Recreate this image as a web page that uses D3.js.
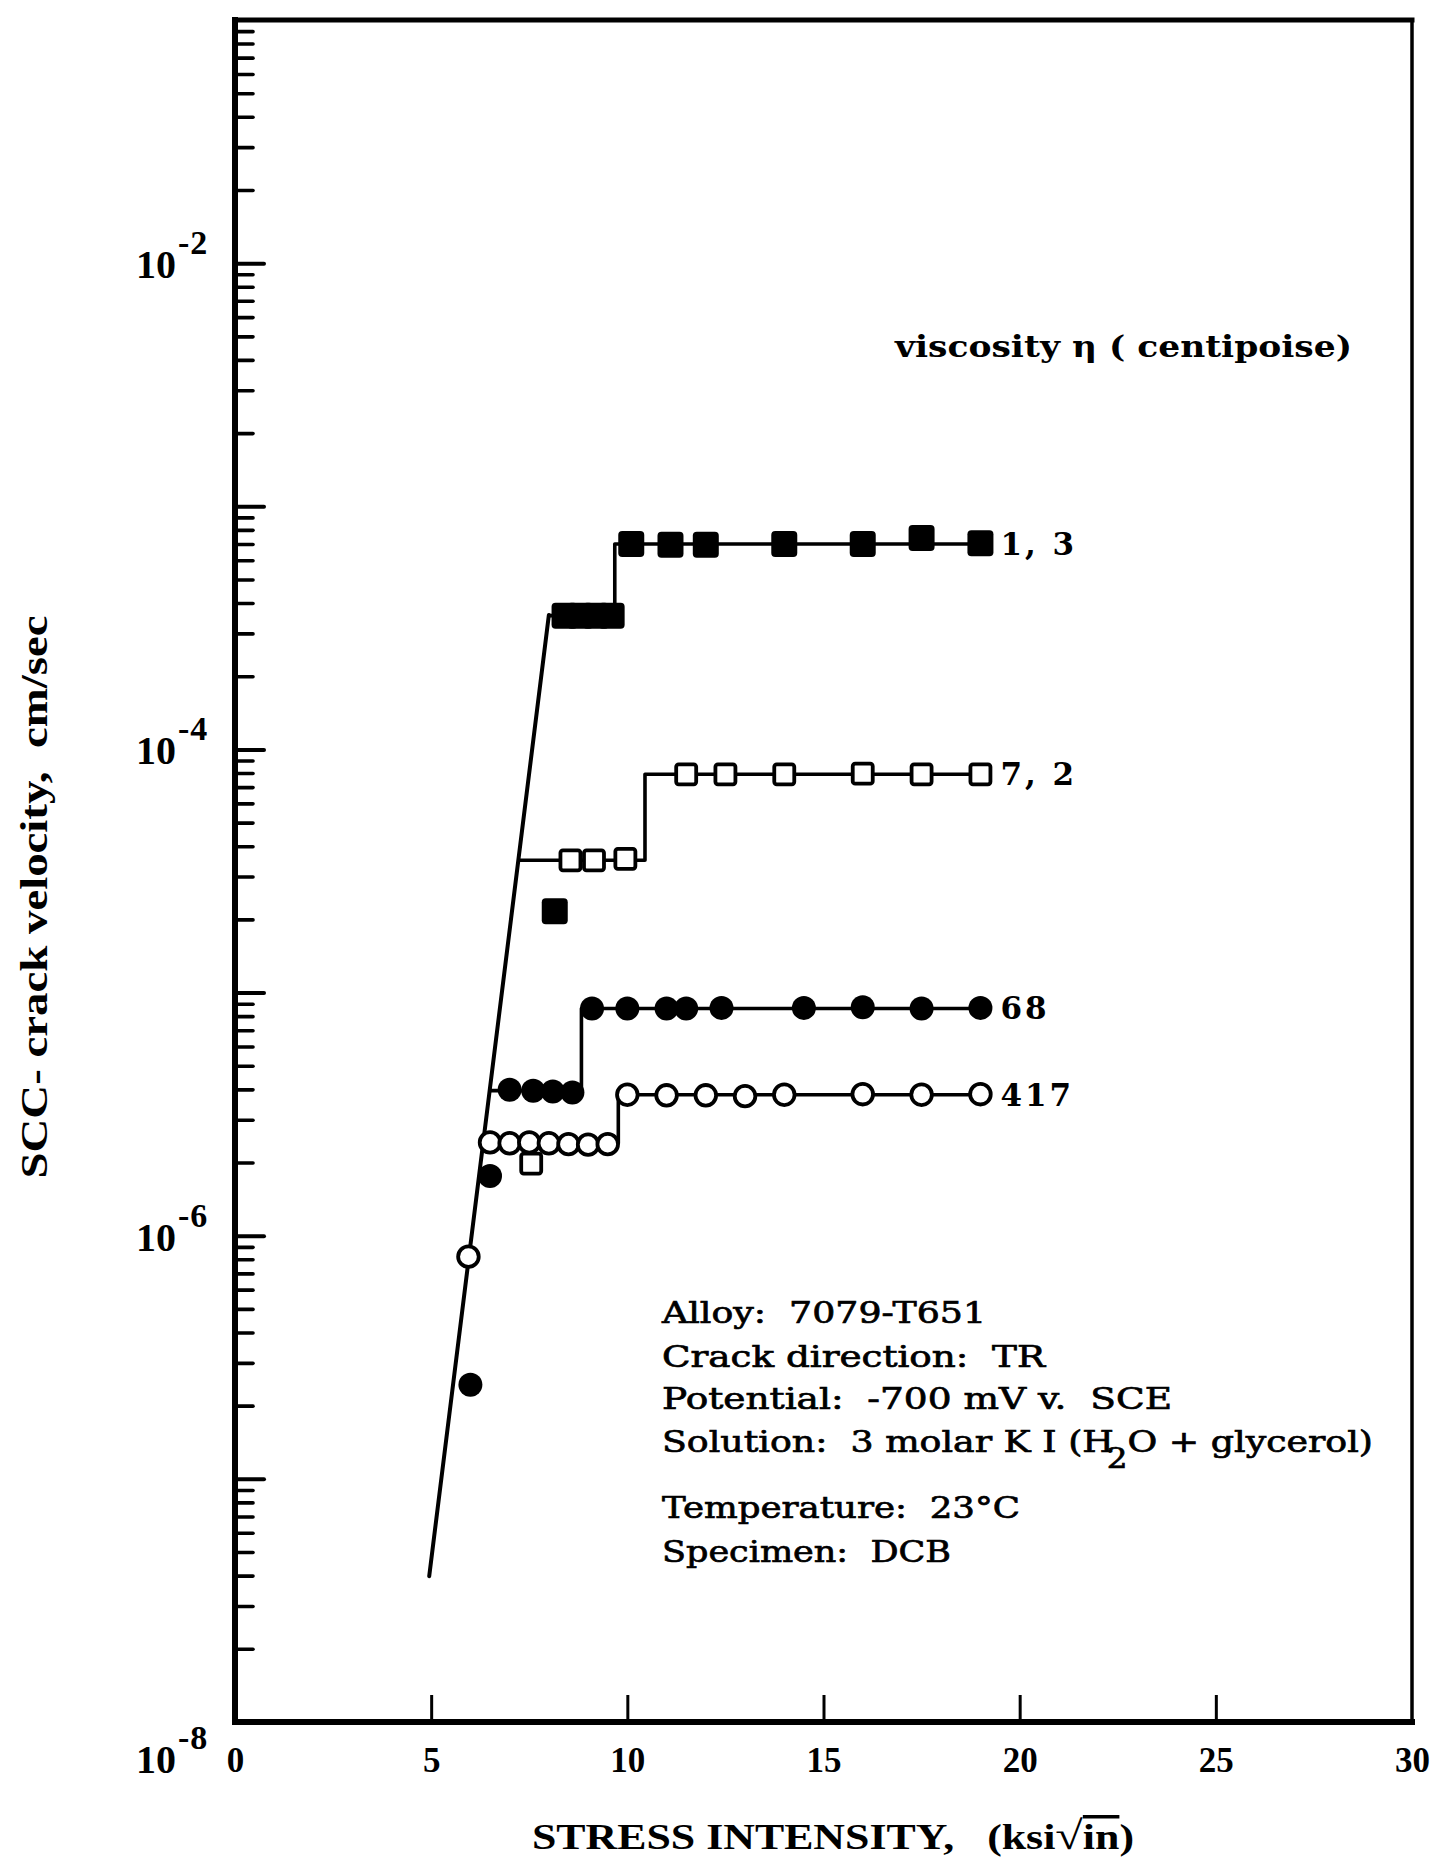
<!DOCTYPE html>
<html><head><meta charset="utf-8">
<script src="https://cdn.jsdelivr.net/npm/d3@7"></script>
<style>body{margin:0;background:#fff}svg{display:block}text{white-space:pre}</style>
</head><body>
<svg id="chart" width="1436" height="1876"></svg>
<script>
// ---------------- data ----------------
const xTickValues = [5, 10, 15, 20, 25];
const xLabelValues = [0, 5, 10, 15, 20, 25, 30];
const xTickLabels = ["0", "5", "10", "15", "20", "25", "30"];
const yLabelExponents = [-2, -4, -6, -8];
const yLabelText = ["-2", "-4", "-6", "-8"];

// common steep fit line (K, velocity)
const fitK = [4.95, 8.0];
const fitV = [3.98e-8, 3.57e-4];

// viscosity 1,3  (filled squares)
const s13K = [8.4, 8.8, 9.2, 9.6, 10.1, 11.1, 12.0, 14.0, 16.0, 17.5, 19.0, 8.15];
const s13V = [3.55e-4, 3.55e-4, 3.55e-4, 3.55e-4, 7.0e-4, 6.95e-4, 6.95e-4, 7.0e-4, 7.0e-4, 7.4e-4, 7.05e-4, 2.16e-5];
const s13Levels = [3.55e-4, 7.0e-4];
const s13Rise = 9.68;

// viscosity 7,2  (open squares)
const s72K = [8.55, 9.15, 9.95, 11.5, 12.5, 14.0, 16.0, 17.5, 19.0, 7.55];
const s72V = [3.5e-5, 3.5e-5, 3.55e-5, 7.9e-5, 7.9e-5, 7.9e-5, 7.95e-5, 7.9e-5, 7.9e-5, 1.98e-6];
const s72Levels = [3.5e-5, 7.9e-5];
const s72Rise = 10.45;

// viscosity 68  (filled circles)
const s68K = [7.0, 7.6, 8.1, 8.6, 9.1, 10.0, 11.0, 11.5, 12.4, 14.5, 16.0, 17.5, 19.0, 6.5, 6.0];
const s68V = [3.98e-6, 3.95e-6, 3.92e-6, 3.88e-6, 8.6e-6, 8.6e-6, 8.6e-6, 8.6e-6, 8.65e-6, 8.65e-6, 8.7e-6, 8.6e-6, 8.65e-6, 1.76e-6, 2.44e-7];
const s68Levels = [3.95e-6, 8.6e-6];
const s68Rise = 8.83;

// viscosity 417  (open circles)
const s417K = [6.5, 7.0, 7.5, 8.0, 8.5, 9.0, 9.5, 10, 11, 12, 13, 14, 16, 17.5, 19, 5.95];
const s417V = [2.42e-6, 2.4e-6, 2.42e-6, 2.4e-6, 2.38e-6, 2.37e-6, 2.38e-6, 3.8e-6, 3.78e-6, 3.78e-6, 3.75e-6, 3.8e-6, 3.82e-6, 3.8e-6, 3.82e-6, 8.2e-7];
const s417Levels = [2.4e-6, 3.8e-6];
const s417Rise = 9.77;

const seriesNames = ["1, 3", "7, 2", "68", "417"];
const stepEndK = 19.0;

const annotationLines = [
  "Alloy:  7079-T651",
  "Crack direction:  TR",
  "Potential:  -700 mV v.  SCE",
  "Solution:  3 molar K I (H|2|O + glycerol)",
  "Temperature:  23°C",
  "Specimen:  DCB"
];

// ---------------- chart ----------------
const svg = d3.select("#chart");
const x = d3.scaleLinear().domain([0, 30]).range([235, 1412]);
const y = d3.scaleLog().domain([1e-8, 1e-1]).range([1722, 20]);

const series = [
  {name: seriesNames[0], shape: "square", filled: true,  k: s13K, v: s13V, levels: s13Levels, rise: s13Rise},
  {name: seriesNames[1], shape: "square", filled: false, k: s72K, v: s72V, levels: s72Levels, rise: s72Rise},
  {name: seriesNames[2], shape: "circle", filled: true,  k: s68K, v: s68V, levels: s68Levels, rise: s68Rise},
  {name: seriesNames[3], shape: "circle", filled: false, k: s417K, v: s417V, levels: s417Levels, rise: s417Rise}
];

// K where the fit line reaches a given velocity
function fitAt(v) {
  const l0 = Math.log10(fitV[0]), l1 = Math.log10(fitV[1]);
  const t = (Math.log10(v) - l0) / (l1 - l0);
  return fitK[0] + t * (fitK[1] - fitK[0]);
}

// y axis ticks (inward)
const yTickVals = [];
for (let e = -8; e <= -2; e++) for (let m = 1; m <= 9; m++) {
  const v = m * Math.pow(10, e);
  if (v > 1e-8 * 1.01) yTickVals.push(v);
}
const isMajor = d => Math.abs(Math.log10(d) - Math.round(Math.log10(d))) < 1e-6;
const gy = svg.append("g").attr("transform", `translate(${x(0)},0)`)
  .call(d3.axisRight(y).tickValues(yTickVals).tickSize(18).tickSizeOuter(0).tickFormat(""));
gy.select(".domain").remove();
gy.selectAll(".tick line").attr("stroke", "#000")
  .attr("x2", d => isMajor(d) ? 29 : 18)
  .attr("stroke-width", d => isMajor(d) ? 4 : 3.6)
  .attr("stroke-linecap", "round");

// x axis ticks (upward)
const gx = svg.append("g").attr("transform", `translate(0,${y(1e-8)})`)
  .call(d3.axisTop(x).tickValues(xTickValues).tickSize(27).tickSizeOuter(0).tickFormat(""));
gx.select(".domain").remove();
gx.selectAll(".tick line").attr("stroke", "#000").attr("stroke-width", 3);

// x labels
const gxl = svg.append("g").attr("transform", `translate(0,${y(1e-8)})`)
  .call(d3.axisBottom(x).tickValues(xLabelValues).tickSize(0)
    .tickFormat((d, i) => xTickLabels[i]));
gxl.select(".domain").remove();
gxl.selectAll(".tick text")
  .attr("y", 50).attr("dy", 0)
  .attr("font-family", "'Liberation Serif', serif")
  .attr("font-weight", "bold").attr("font-size", 35).attr("fill", "#000");

// y labels  10^-n
yLabelExponents.forEach((e, i) => {
  const v = Math.pow(10, e);
  const shift = e === -8 ? 36 : 0;
  const yc = y(v) + shift;
  svg.append("text").attr("x", 176).attr("y", yc + 15)
    .attr("text-anchor", "end")
    .attr("font-family", "'Liberation Serif', serif").attr("font-weight", "bold")
    .attr("font-size", 40).text("10");
  svg.append("text").attr("x", 178).attr("y", yc - 9)
    .attr("font-family", "'Liberation Serif', serif").attr("font-weight", "bold")
    .attr("font-size", 34).attr("letter-spacing", 1).text(yLabelText[i]);
});

// frame
const fx0 = x.range()[0], fx1 = x.range()[1], fy0 = y.range()[1], fy1 = y.range()[0];
const frame = svg.append("g").attr("stroke", "#000").attr("stroke-linecap", "square");
frame.append("line").attr("x1", fx0).attr("x2", fx0).attr("y1", fy0).attr("y2", fy1).attr("stroke-width", 6);
frame.append("line").attr("x1", fx0).attr("x2", fx1).attr("y1", fy0).attr("y2", fy0).attr("stroke-width", 5);
frame.append("line").attr("x1", fx0).attr("x2", fx1).attr("y1", fy1).attr("y2", fy1).attr("stroke-width", 6);
frame.append("line").attr("x1", fx1).attr("x2", fx1).attr("y1", fy0).attr("y2", fy1).attr("stroke-width", 3.5);

// lines
const line = d3.line().x(d => x(d[0])).y(d => y(d[1]));
svg.append("path")
  .attr("d", line([[fitK[0], fitV[0]], [fitK[1], fitV[1]]]))
  .attr("fill", "none").attr("stroke", "#000").attr("stroke-width", 4).attr("stroke-linecap", "round");

series.forEach(s => {
  const pts = [
    [fitAt(s.levels[0]), s.levels[0]],
    [s.rise, s.levels[0]],
    [s.rise, s.levels[1]],
    [stepEndK, s.levels[1]]
  ];
  svg.append("path").attr("d", line(pts))
    .attr("fill", "none").attr("stroke", "#000").attr("stroke-width", 3.6)
    .attr("stroke-linejoin", "round");
});

// markers
series.forEach(s => {
  const data = s.k.map((k, i) => [k, s.v[i]]);
  const g = svg.append("g");
  if (s.shape === "square") {
    const size = s.filled ? 26 : 20;
    g.selectAll("rect").data(data).join("rect")
      .attr("x", d => x(d[0]) - size / 2).attr("y", d => y(d[1]) - size / 2)
      .attr("width", size).attr("height", size)
      .attr("rx", s.filled ? 4 : 2.5)
      .attr("fill", s.filled ? "#000" : "#fff")
      .attr("stroke", "#000").attr("stroke-width", s.filled ? 0 : 3.8);
  } else {
    g.selectAll("circle").data(data).join("circle")
      .attr("cx", d => x(d[0])).attr("cy", d => y(d[1]))
      .attr("r", s.filled ? 12 : 10.3)
      .attr("fill", s.filled ? "#000" : "#fff")
      .attr("stroke", "#000").attr("stroke-width", s.filled ? 0 : 3.8);
  }
  // series label
  svg.append("text")
    .attr("x", x(stepEndK) + 20).attr("y", y(s.levels[1]) + 11)
    .attr("font-family", "'DejaVu Serif', serif").attr("font-weight", "bold")
    .attr("font-size", 31).attr("letter-spacing", 3).text(s.name);
});

// legend title
svg.append("text").attr("x", 895).attr("y", 357)
  .attr("font-family", "'DejaVu Serif', serif").attr("font-weight", "bold")
  .attr("font-size", 29).attr("textLength", 457).attr("lengthAdjust", "spacingAndGlyphs")
  .text("viscosity η ( centipoise)");

// annotation block
const annBase = [1323, 1367, 1409, 1452, 1518, 1562];
const annWidth = [324, 383, 510, 711, 358, 289];
annotationLines.forEach((t, i) => {
  const tx = svg.append("text").attr("x", 662).attr("y", annBase[i])
    .attr("font-family", "'DejaVu Serif', serif")
    .attr("font-size", 30).attr("fill", "#000")
    .attr("stroke", "#000").attr("stroke-width", 0.7)
    .attr("textLength", annWidth[i]).attr("lengthAdjust", "spacingAndGlyphs");
  const parts = t.split("|");
  if (parts.length === 1) tx.text(t);
  else {
    tx.append("tspan").text(parts[0]);
    tx.append("tspan").attr("dy", 16).attr("dx", -6).attr("font-size", 27).text(parts[1]);
    tx.append("tspan").attr("dy", -16).text(parts[2]);
  }
});

// axis titles
svg.append("text").attr("transform", "translate(47,897) rotate(-90)")
  .attr("text-anchor", "middle")
  .attr("font-family", "'Liberation Serif', serif").attr("font-weight", "bold")
  .attr("font-size", 38).attr("textLength", 563).attr("lengthAdjust", "spacingAndGlyphs")
  .text("SCC- crack velocity,  cm/sec");

const xt = svg.append("text").attr("x", 833).attr("y", 1849)
  .attr("text-anchor", "middle")
  .attr("font-family", "'Liberation Serif', serif").attr("font-weight", "bold")
  .attr("font-size", 35).attr("textLength", 602).attr("lengthAdjust", "spacingAndGlyphs");
xt.append("tspan").text("STRESS INTENSITY,   (ksi");
xt.append("tspan").attr("font-size", 40).text("√");
xt.append("tspan").style("text-decoration", "overline").text("in");
xt.append("tspan").text(")");
</script>
</body></html>
